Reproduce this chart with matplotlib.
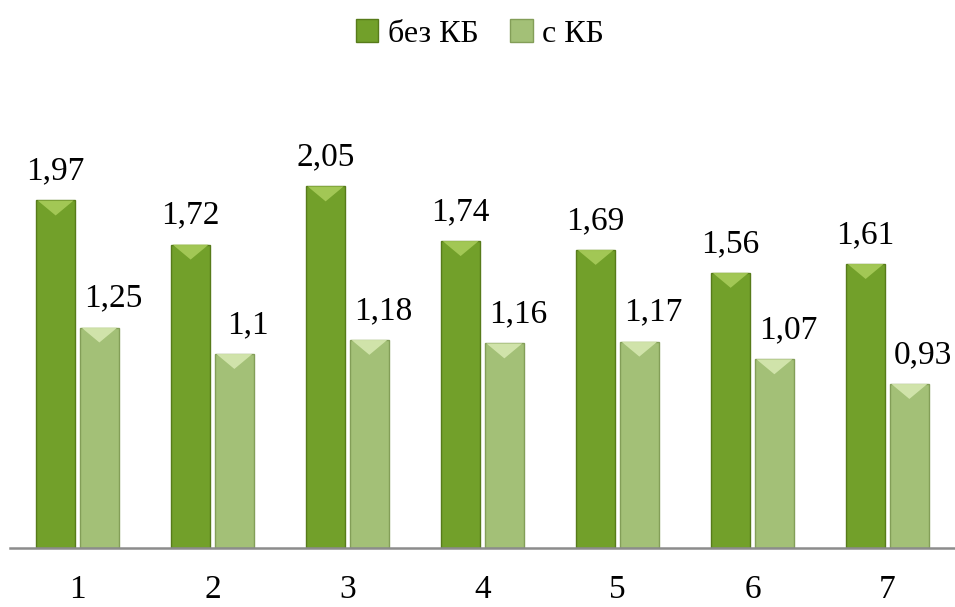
import numpy as np
import matplotlib
matplotlib.use('Agg')
import matplotlib.pyplot as plt
from matplotlib.patches import Patch, Polygon

# data
categories = ['1', '2', '3', '4', '5', '6', '7']
bez_kb = [1.97, 1.72, 2.05, 1.74, 1.69, 1.56, 1.61]
s_kb = [1.25, 1.1, 1.18, 1.16, 1.17, 1.07, 0.93]
series_names = ['без КБ', 'с КБ']

plt.rcParams['font.family'] = ['Liberation Serif', 'DejaVu Serif']

fig = plt.figure(figsize=(9.55, 6.07), dpi=100)
ax = fig.add_axes([10 / 955, 59 / 607, 945 / 955, 441 / 607])

x = np.arange(len(categories))
w = 0.29
off = 0.162

# colors: face, top bevel, edge
dark = ('#72a02a', '#a8cc5a', '#577b1a')
light = ('#a3c077', '#d6e8b0', '#839e58')


def draw_series(xs, vals, col):
    bars = ax.bar(xs, vals, w, color=col[0], edgecolor=col[2], linewidth=1.0, zorder=2)
    # bevelled top, like the original 3d-ish bar style
    for b in bars:
        bx = b.get_x()
        bw = b.get_width()
        h = b.get_height()
        tri = Polygon([(bx + 0.04 * bw, h), (bx + 0.96 * bw, h), (bx + bw / 2, h - 0.085)],
                      closed=True, facecolor=col[1], edgecolor='none', alpha=0.9, zorder=3)
        ax.add_patch(tri)
    return bars


b1 = draw_series(x - off, bez_kb, dark)
b2 = draw_series(x + off, s_kb, light)

# light-series labels sit a bit right of their bars in the original
for bars, vals, dx in ((b1, bez_kb, 0), (b2, s_kb, 10)):
    for b, v in zip(bars, vals):
        lbl = ('%g' % v).replace('.', ',')
        ax.annotate(lbl, (b.get_x() + b.get_width() / 2, v), xytext=(dx, 10),
                    textcoords='offset points', ha='center', va='bottom', fontsize=24)

ax.set_xlim(-0.5, len(categories) - 0.5)
ax.set_ylim(0, 2.5)
ax.set_xticks(x)
ax.set_xticklabels(categories, fontsize=24)
ax.tick_params(axis='x', length=0, pad=19)
ax.set_yticks([])
for s in ('top', 'right', 'left'):
    ax.spines[s].set_visible(False)
ax.spines['bottom'].set_color('#8c8c8c')
ax.spines['bottom'].set_linewidth(1.8)
ax.spines['bottom'].set_zorder(4)

handles = [Patch(facecolor=dark[0], edgecolor=dark[2]),
           Patch(facecolor=light[0], edgecolor=light[2])]
fig.legend(handles, series_names, loc='center', bbox_to_anchor=(480 / 955, 1 - 34 / 607),
           ncol=2, frameon=False, fontsize=23, handlelength=0.7, handleheight=0.7,
           handletextpad=0.3, columnspacing=1.0)

fig.savefig('out.png', dpi=100)
